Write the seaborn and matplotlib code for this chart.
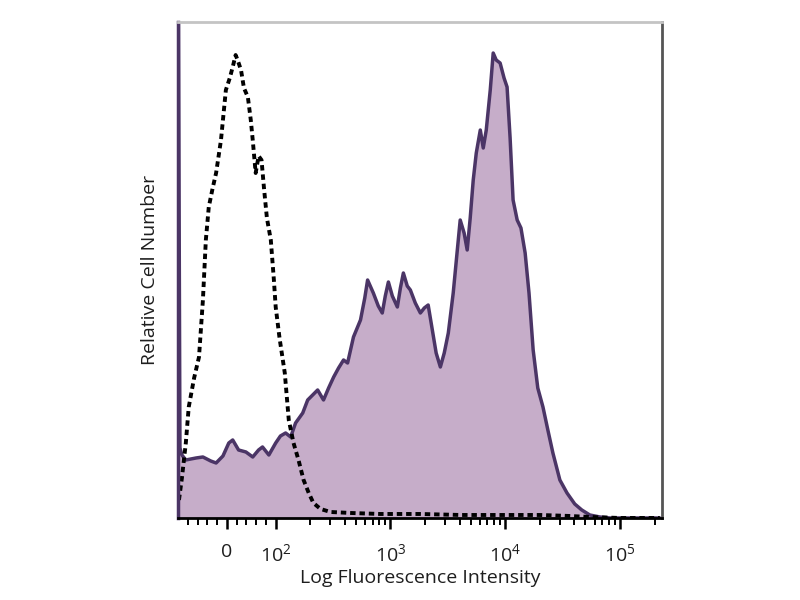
import numpy as np
import pandas as pd
import matplotlib
matplotlib.use("Agg")
import matplotlib.pyplot as plt
from matplotlib.ticker import FixedLocator
import seaborn as sns

# Stained sample (filled histogram): fluorescence value vs. relative count
stained_x = [-100, -96, -92, -84, -63, -49, -33, -22, -8, 4, 12, 24, 39, 53, 65, 73, 86, 100,
             110, 122, 135, 149, 172, 190, 210, 232, 261, 289, 320, 353, 390, 423, 476, 548,
             597, 632, 709, 783, 848, 901, 959, 1038, 1148, 1220, 1295, 1400, 1490, 1645,
             1822, 1970, 2130, 2300, 2500, 2720, 2940, 3190, 3520, 3800, 4050, 4380, 4660,
             4950, 5260, 5590, 6060, 6430, 6830, 7400, 7850, 8340, 9020, 9760, 10370, 11020,
             11700, 12700, 13700, 14900, 16100, 17500, 19200, 21300, 23500, 26000, 29900,
             34500, 40300, 46400, 54500, 66700, 81600, 100000, 148000, 222000]
stained_y = [620, 70, 63, 58, 60, 61, 57, 55, 62, 75, 78, 68, 66, 61, 68, 71, 63, 75,
             82, 85, 81, 95, 105, 118, 123, 128, 118, 130, 141, 150, 158, 155, 181, 198,
             220, 238, 225, 212, 205, 222, 236, 222, 211, 230, 245, 232, 228, 215,
             205, 210, 213, 190, 165, 151, 165, 185, 225, 265, 298, 285, 268,
             300, 338, 365, 388, 370, 388, 428, 465, 458, 455, 440, 431, 380,
             318, 298, 290, 265, 225, 168, 130, 111, 88, 65, 38,
             25, 14, 8, 3, 1, 0, 0, 0, 0]

# Isotype control (dashed histogram)
control_x = [-98, -92, -84, -78, -67, -57, -49, -43, -37, -29, -22, -12, -2, 6, 12, 18, 22,
             29, 35, 43, 49, 53, 59, 65, 71, 76, 82, 90, 96, 100, 108, 120, 130, 143, 158,
             175, 194, 213, 246, 300, 450, 815, 1820, 4050, 9020, 20100, 36400, 54500,
             100000, 222000]
control_y = [18, 40, 75, 111, 140, 161, 218, 278, 311, 330, 345, 378, 428, 440, 451, 463, 458,
             448, 430, 421, 398, 378, 345, 362, 358, 330, 300, 278, 240, 211, 180, 145, 98, 75, 58,
             38, 25, 15, 9, 6, 5, 4, 4, 3, 3, 3, 2, 1,
             0, 0]

tick_values = [0, 1e2, 1e3, 1e4, 1e5]
tick_labels = ["0", "$10^2$", "$10^3$", "$10^4$", "$10^5$"]

sns.set_style("white")
plt.rcParams["font.family"] = ["Open Sans", "DejaVu Sans"]
plt.rcParams["mathtext.default"] = "regular"

fill_color = "#c6adc9"
line_color = "#4b3566"
text_color = "#1e1e1e"

stained = pd.DataFrame({"x": stained_x, "y": stained_y})
control = pd.DataFrame({"x": control_x, "y": control_y})

fig = plt.figure(figsize=(8, 6), dpi=100)
ax = fig.add_axes([0.2225, 0.1367, 0.605, 0.8266])
ax.set_xscale("symlog", linthresh=100, linscale=0.383)

ax.fill_between(stained["x"], stained["y"], color=fill_color, lw=0)
sns.lineplot(data=stained, x="x", y="y", ax=ax, color=line_color, lw=2.5, sort=False)
sns.lineplot(data=control, x="x", y="y", ax=ax, color="black", lw=2.8,
             linestyle=(0, (1.4, 1.0)), sort=False)

ax.set_xlim(-100, 232000)
ax.set_ylim(0, 496)

ax.xaxis.set_major_locator(FixedLocator(tick_values))
ax.set_xticklabels(tick_labels)
minor = [-80, -60, -40, -20, 20, 40, 60, 80]
for d in [2, 3, 4]:
    minor += [k * 10 ** d for k in range(2, 10)]
minor += [2e5]
ax.xaxis.set_minor_locator(FixedLocator(minor))
ax.set_yticks([])

ax.tick_params(axis="x", which="major", direction="out", length=8, width=1.8,
               color="black", labelsize=14, pad=10, labelcolor=text_color)
ax.tick_params(axis="x", which="minor", direction="out", length=5, width=1.4,
               color="black", bottom=True)
ax.tick_params(axis="x", bottom=True)

ax.spines["top"].set_color("#c4c4c4")
ax.spines["top"].set_linewidth(2)
ax.spines["right"].set_color("#555555")
ax.spines["right"].set_linewidth(2)
ax.spines["bottom"].set_color("black")
ax.spines["bottom"].set_linewidth(2)
ax.spines["left"].set_color(line_color)
ax.spines["left"].set_linewidth(2.5)

ax.set_xlabel("Log Fluorescence Intensity", fontsize=14, color=text_color, labelpad=3)
ax.set_ylabel("Relative Cell Number", fontsize=14, color=text_color, labelpad=14)

fig.savefig("out.png", dpi=100)
